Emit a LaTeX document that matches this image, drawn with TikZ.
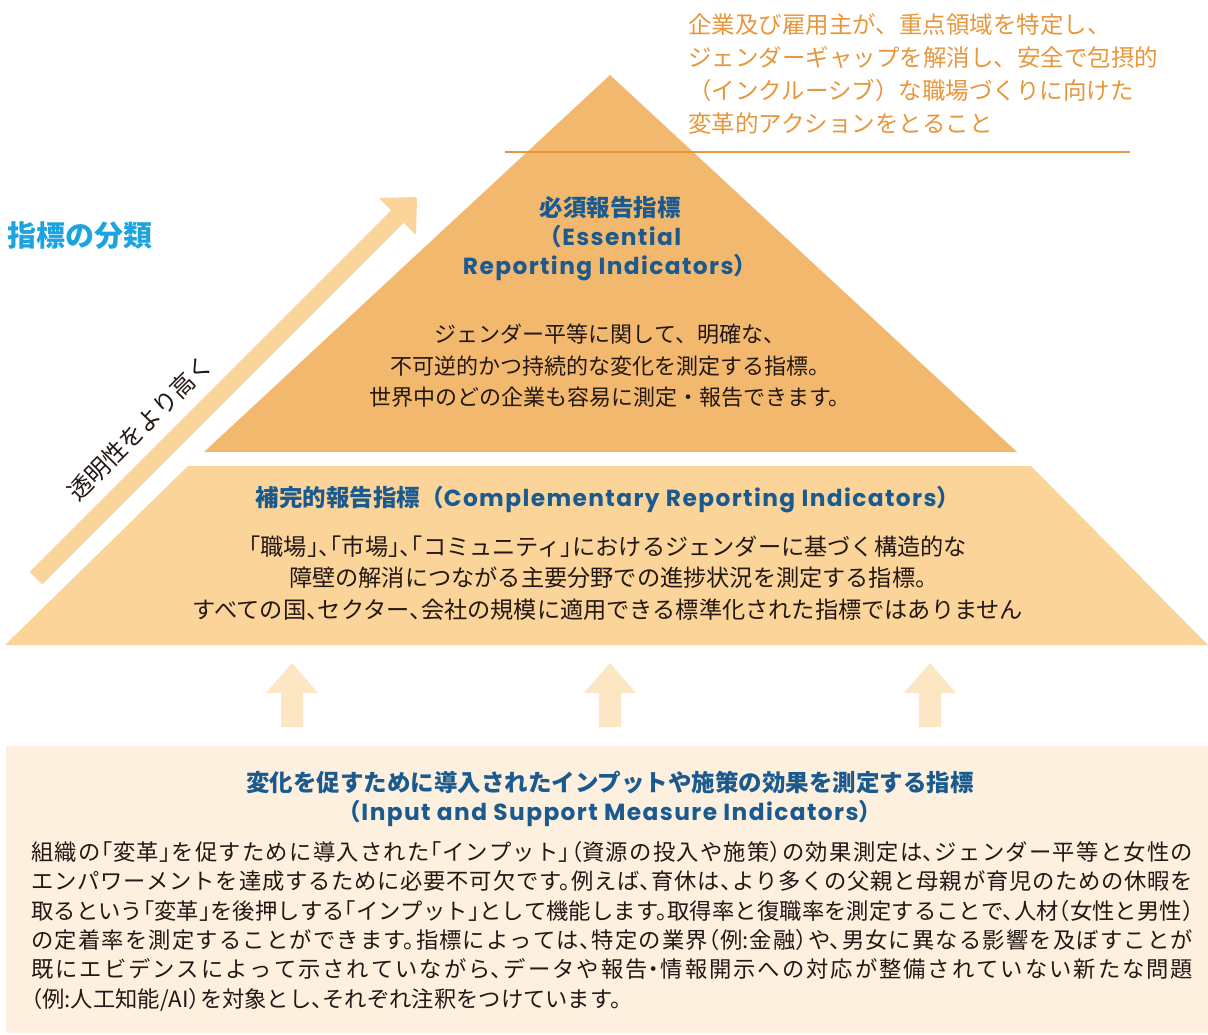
\documentclass[tikz,border=0pt]{standalone}
\usepackage{fontspec}
\setmainfont{Noto Sans CJK JP}
\newfontfamily\haltjp[RawFeature=+halt]{Noto Sans CJK JP}
\newfontfamily\latinhead[LetterSpace=6]{Poppins}
\XeTeXlinebreaklocale "ja"
\XeTeXlinebreakskip=0pt plus 3pt minus 0.6pt

\definecolor{toptri}{HTML}{F2B86E}
\definecolor{midtrap}{HTML}{FBD49A}
\definecolor{palearrow}{HTML}{FDE6C4}
\definecolor{inputbox}{HTML}{FDF0DF}
\definecolor{goalorange}{HTML}{E8963C}
\definecolor{titleblue}{HTML}{1A5A8F}
\definecolor{headcyan}{HTML}{1BA4DF}
\definecolor{inkblack}{HTML}{231815}

\newcommand{\eng}[1]{{\latinhead\fontsize{23.3}{29}\selectfont #1}}

\tikzset{
  titletext/.style={text=titleblue, align=center, inner sep=0,
    font=\bfseries\fontsize{23.5}{29}\selectfont},
  bodytext/.style={text=inkblack, align=center, inner sep=0,
    font=\fontsize{22}{31.5}\selectfont},
  uparrow/.style={fill=palearrow}
}

\begin{document}
\begin{tikzpicture}[x=1pt,y=-1pt]
  \useasboundingbox (0,0) rectangle (1208,1034);
  % pyramid
  \fill[toptri] (610,75) -- (1017,452) -- (204,452) -- cycle;
  \fill[midtrap] (188,466) -- (1031,466) -- (1208,645) -- (5,645) -- cycle;
  \draw[goalorange, line width=2.8pt] (505,152) -- (1130,152);
  \node[anchor=west, align=left, inner sep=0, text=goalorange,
    font=\fontsize{23.5}{33}\selectfont] (goal) at (688,74)
    {企業及び雇用主が、重点領域を特定し、\\ジェンダーギャップを解消し、安全で包摂的\\（インクルーシブ）な職場づくりに向けた\\変革的アクションをとること};
  % transparency arrow
  \draw[midtrap, line width=18pt] (36,578) -- (398,216);
  \fill[midtrap, rounded corners=2pt] (379,198) -- (417,197) -- (416,235) -- cycle;
  \node[rotate=45, inner sep=0, text=inkblack, font=\fontsize{24}{24}\selectfont]
    (transp) at (140,428) {透明性をより高く};
  \node[anchor=west, inner sep=0, text=headcyan, font=\bfseries\fontsize{29}{29}\selectfont]
    (kinds) at (7,236) {指標の分類};
  % essential
  \node[titletext] (esstitle) at (610,239)
    {必須報告指標\\（\eng{Essential}\\\eng{Reporting Indicators}）};
  \node[bodytext] (essbody) at (610,366)
    {ジェンダー平等に関して、明確な、\\不可逆的かつ持続的な変化を測定する指標。\\世界中のどの企業も容易に測定・報告できます。};
  % complementary
  \node[titletext] (comptitle) at (608,500)
    {補完的報告指標（\eng{Complementary Reporting Indicators}）};
  \node[bodytext, font=\haltjp\fontsize{23.2}{31.5}\selectfont] (compbody) at (608,578)
    {「職場」、「市場」、「コミュニティ」におけるジェンダーに基づく構造的な\\障壁の解消につながる主要分野での進捗状況を測定する指標。\\すべての国、セクター、会社の規模に適用できる標準化された指標ではありません};
  % inputs
  \foreach \cx in {292,610,930}
    \fill[uparrow] (\cx-11,727) -- (\cx-11,693) -- (\cx-26,693) -- (\cx,663)
      -- (\cx+26,693) -- (\cx+11,693) -- (\cx+11,727) -- cycle;
  \fill[inputbox] (6,746) rectangle (1208,1033);
  \node[titletext] (inputtitle) at (610,799)
    {変化を促すために導入されたインプットや施策の効果を測定する指標\\（\eng{Input and Support Measure Indicators}）};
  \node[anchor=north west, text width=1162pt, align=justify, inner sep=0, text=inkblack,
    font=\haltjp\fontsize{22.3}{29.4}\selectfont] (inputbody) at (31,841)
    {組織の「変革」を促すために導入された「インプット」（資源の投入や施策）の効果測定は、ジェンダー平等と女性の\linebreak
     エンパワーメントを達成するために必要不可欠です。例えば、育休は、より多くの父親と母親が育児のための休暇を\linebreak
     取るという「変革」を後押しする「インプット」として機能します。取得率と復職率を測定することで、人材（女性と男性）\linebreak
     の定着率を測定することができます。指標によっては、特定の業界（例:金融）や、男女に異なる影響を及ぼすことが\linebreak
     既にエビデンスによって示されていながら、データや報告・情報開示への対応が整備されていない新たな問題\linebreak
     （例:人工知能/AI）を対象とし、それぞれ注釈をつけています。};
\end{tikzpicture}
\end{document}
